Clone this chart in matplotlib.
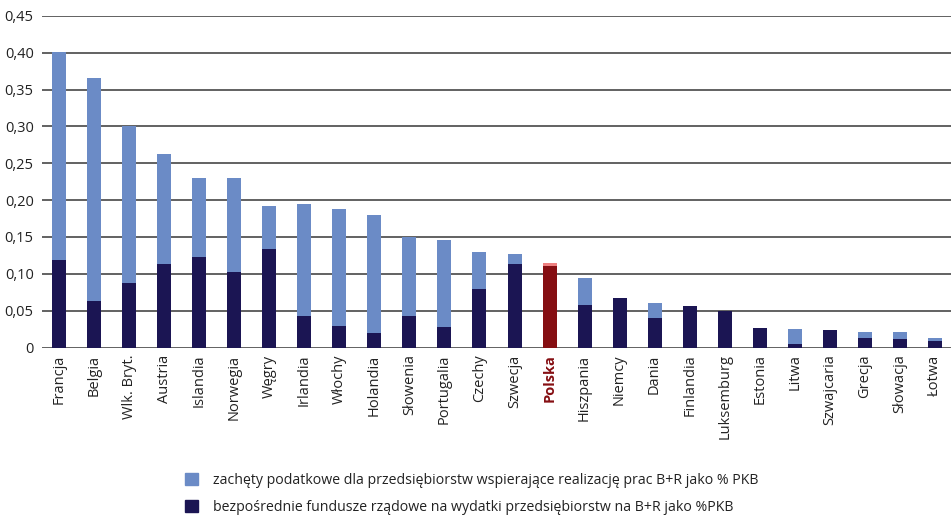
import numpy as np
import matplotlib.pyplot as plt
from matplotlib.patches import Patch

plt.rcParams['font.family'] = ['Open Sans', 'DejaVu Sans']

countries = ['Francja', 'Belgia', 'Wlk. Bryt.', 'Austria', 'Islandia', 'Norwegia',
             'Węgry', 'Irlandia', 'Włochy', 'Holandia', 'Słowenia', 'Portugalia',
             'Czechy', 'Szwecja', 'Polska', 'Hiszpania', 'Niemcy', 'Dania',
             'Finlandia', 'Luksemburg', 'Estonia', 'Litwa', 'Szwajcaria', 'Grecja',
             'Słowacja', 'Łotwa']
total = [0.401, 0.366, 0.300, 0.263, 0.230, 0.230, 0.192, 0.195, 0.188, 0.180,
         0.150, 0.146, 0.130, 0.127, 0.115, 0.095, 0.067, 0.061, 0.056, 0.050,
         0.027, 0.025, 0.024, 0.021, 0.021, 0.013]
direct = [0.119, 0.063, 0.088, 0.114, 0.123, 0.103, 0.134, 0.043, 0.029, 0.020,
          0.043, 0.028, 0.080, 0.114, 0.110, 0.058, 0.067, 0.040, 0.056, 0.050,
          0.027, 0.005, 0.024, 0.013, 0.012, 0.009]
tax = [t - d for t, d in zip(total, direct)]

highlight = 'Polska'
c_dark, c_light = '#1b1553', '#6b8bc6'
h_dark, h_light = '#850e12', '#ee8080'

dark_cols = [h_dark if c == highlight else c_dark for c in countries]
light_cols = [h_light if c == highlight else c_light for c in countries]

fig = plt.figure(figsize=(9.51, 5.17), dpi=100)
ax = fig.add_axes([42/951, 1-347.5/517, 910/951, 331.5/517])

x = np.arange(len(countries))
ax.bar(x, direct, width=0.4, color=dark_cols, zorder=3)
ax.bar(x, tax, bottom=direct, width=0.4, color=light_cols, zorder=3)

ax.set_xlim(-0.49, len(countries) - 0.51)
ax.set_ylim(0, 0.45)
yt = np.arange(0, 0.4501, 0.05)
ax.set_yticks(yt)
ax.set_yticklabels(['0'] + [('%.2f' % v).replace('.', ',') for v in yt[1:]], fontsize=10.5)
ax.yaxis.grid(True, color='#555555', linewidth=1.3, zorder=0)
ax.tick_params(axis='y', length=0, pad=6, colors='#222222')
ax.tick_params(axis='x', length=0, pad=5)
for s in ['top', 'right', 'left', 'bottom']:
    ax.spines[s].set_visible(False)

ax.set_xticks(x)
ax.set_xticklabels(countries, rotation=90, fontsize=10.5)
for lab in ax.get_xticklabels():
    if lab.get_text() == highlight:
        lab.set_color(h_dark)
        lab.set_fontweight('bold')
    else:
        lab.set_color('#222222')

handles = [Patch(color=c_light), Patch(color=c_dark)]
labels = ['zachęty podatkowe dla przedsiębiorstw wspierające realizację prac B+R jako % PKB',
          'bezpośrednie fundusze rządowe na wydatki przedsiębiorstw na B+R jako %PKB']
fig.legend(handles, labels, loc='upper left', bbox_to_anchor=(172/951, 1-460/517),
           frameon=False, fontsize=10.2, handlelength=0.9, handleheight=0.9,
           labelspacing=0.85, handletextpad=1.1, labelcolor='#222222')

fig.savefig('out.png', dpi=100)
